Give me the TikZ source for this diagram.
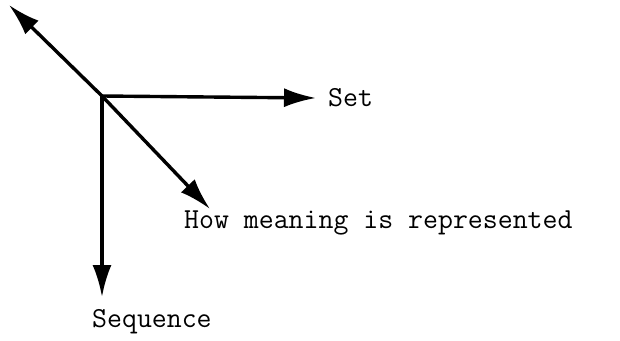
\documentclass[tikz,border=0pt]{standalone}
\usepackage{tikz}
\usetikzlibrary{arrows.meta,positioning}

\begin{document}
\begin{tikzpicture}[
  x=1pt, y=-1pt,
  axis/.style={-{Latex[length=32pt,width=19pt]}, line width=3.4pt},
  lbl/.style={font=\ttfamily\fontsize{29}{31}\selectfont, inner sep=0pt, anchor=west}
]
  \useasboundingbox (0,0) rectangle (620,340);

  %% Origin and axis ends
  \coordinate (origin) at (102,96);
  \coordinate (uptip)  at (9,5);
  \coordinate (settip) at (316,98);
  \coordinate (hmtip)  at (210,209);
  \coordinate (seqtip) at (102,297);

  %% Labels
  \node[lbl, right=12pt of settip] (set) {Set};
  \node[lbl] (hm) at (184,223) {How meaning is represented};
  \node[lbl] (seq) at (92,322) {Sequence};

  %% Axes
  \draw[axis] (origin) -- (uptip);
  \draw[axis] (origin) -- (settip);
  \draw[axis] (origin) -- (hmtip);
  \draw[axis] (origin) -- (seqtip);

\end{tikzpicture}
\end{document}
